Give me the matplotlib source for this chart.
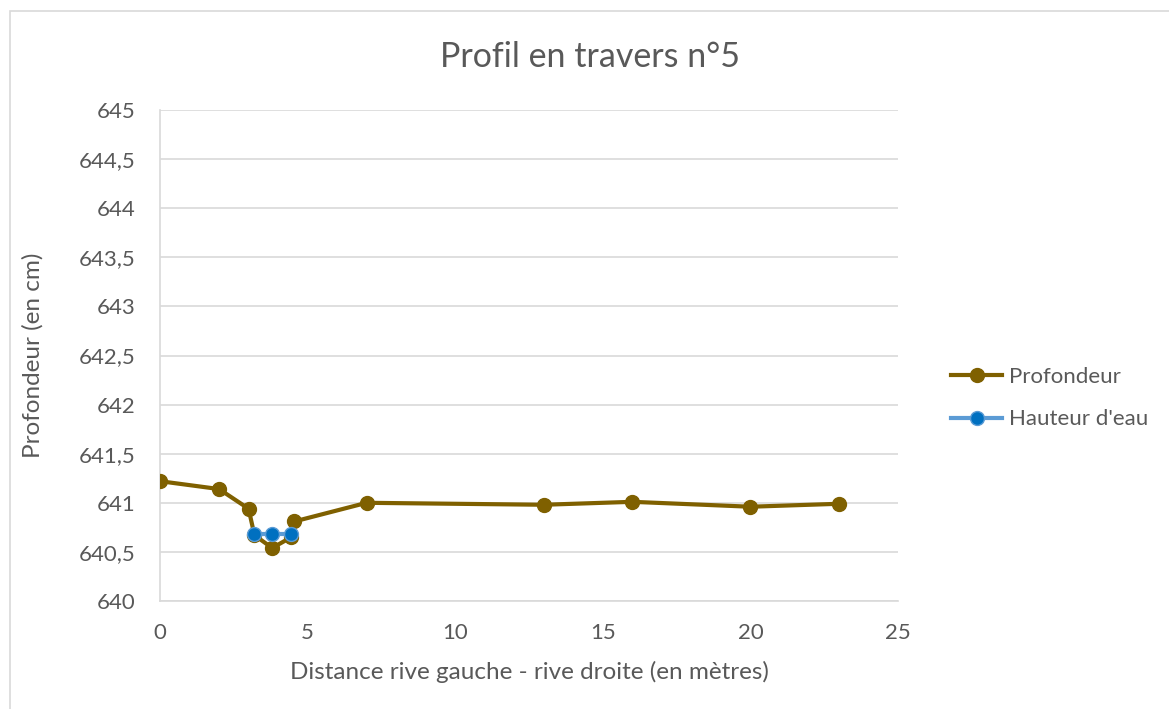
import matplotlib
matplotlib.use("Agg")
import matplotlib.pyplot as plt
from matplotlib.patches import Rectangle
from matplotlib.ticker import FuncFormatter

# données
distance = [0, 2, 3, 3.2, 3.8, 4.45, 4.55, 7, 13, 16, 20, 23]
profondeur = [641.22, 641.14, 640.94, 640.67, 640.54, 640.65, 640.81,
              641.0, 640.98, 641.01, 640.96, 640.99]
distance_eau = [3.2, 3.8, 4.45]
hauteur_eau = [640.68, 640.68, 640.68]

yticks = [640, 640.5, 641, 641.5, 642, 642.5, 643, 643.5, 644, 644.5, 645]
xticks = [0, 5, 10, 15, 20, 25]

plt.rcParams['font.family'] = ['Lato', 'DejaVu Sans']
txt = "#595959"
grid = "#D9D9D9"

fig = plt.figure(figsize=(11.69, 7.09), dpi=100)
ax = fig.add_axes([160 / 1169, 1 - 601 / 709, (898 - 160) / 1169, (601 - 110) / 709])

# cadre du graphique
fig.patches.append(Rectangle((10 / 1169, -0.01), 1.1, 1 - 11 / 709 + 0.01,
                             transform=fig.transFigure, fill=False,
                             edgecolor=grid, lw=1.2))

ax.plot(distance, profondeur, color="#7F6000", lw=3, marker="o", ms=10,
        label="Profondeur", zorder=3)
ax.plot(distance_eau, hauteur_eau, color="#5B9BD5", lw=3, marker="o", ms=10,
        markerfacecolor="#0070C0", markeredgecolor="#5B9BD5", markeredgewidth=1,
        label="Hauteur d'eau", zorder=4)

ax.set_xlim(0, 25)
ax.set_ylim(640, 645)
ax.set_xticks(xticks)
ax.set_yticks(yticks)
ax.yaxis.set_major_formatter(FuncFormatter(lambda v, p: f"{v:g}".replace(".", ",")))
ax.grid(axis="y", color=grid, lw=1.2)
ax.set_axisbelow(True)
for s in ["top", "right"]:
    ax.spines[s].set_visible(False)
ax.spines["left"].set_color(grid)
ax.spines["bottom"].set_color(grid)
ax.spines["left"].set_linewidth(1.2)
ax.spines["bottom"].set_linewidth(1.2)
ax.tick_params(length=0, labelsize=16, colors=txt)
ax.tick_params(axis="x", pad=16)
ax.tick_params(axis="y", pad=18)

fig.text(0.505, 1 - 57 / 709, "Profil en travers n°5", fontsize=24.5, color=txt,
         ha="center", va="center")
ax.set_xlabel("Distance rive gauche - rive droite (en mètres)", fontsize=17.5,
              color=txt, va="center")
ax.xaxis.set_label_coords(0.5, (601 - 672) / 491)
ax.set_ylabel("Profondeur (en cm)", fontsize=17.5, color=txt, va="center")
ax.yaxis.set_label_coords((33 - 160) / 738, 0.5)

leg = ax.legend(loc="center left", bbox_to_anchor=(1.045, 0.413), frameon=False,
                fontsize=16, handlelength=2.3, labelspacing=1.0, handletextpad=0.3)
for t in leg.get_texts():
    t.set_color(txt)

fig.savefig("out.png", dpi=100)
